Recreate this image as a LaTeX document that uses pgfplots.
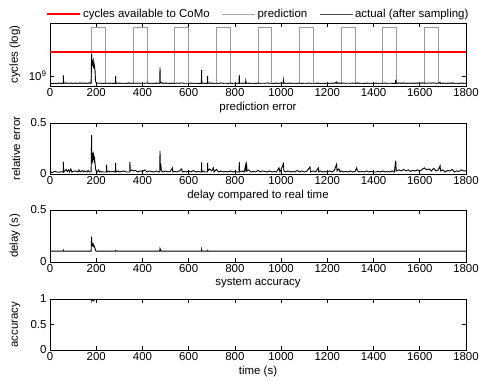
\documentclass[border=0pt]{standalone}
\usepackage{fontspec}
\setmainfont{Liberation Sans}
\usepackage{pgfplots}
\pgfplotsset{compat=1.18}
\pgfplotsset{
  every axis/.append style={
    scale only axis, width=416bp,
    xmin=0, xmax=1800, xtick={0,200,...,1800},
    font=\fontsize{11.5}{13}\selectfont,
    tick label style={font=\fontsize{11.5}{13}\selectfont},
    /pgf/number format/assume math mode=true,
    /pgf/number format/1000 sep={},
    axis line style={line width=0.9bp},
    major tick length=4bp,
    tick style={black, line width=0.6bp},
    xticklabel style={yshift=1bp},
    every axis y label/.style={at={(axis description cs:-0.063,0.5)}, rotate=90, anchor=south},
    every axis x label/.style={at={(axis description cs:0.5,0)}, anchor=north, yshift=-13bp},
  },
}
\begin{document}
\begin{tikzpicture}
\path[use as bounding box] (-50bp,23bp) rectangle (429bp,-359bp);
% Panel 1
\begin{axis}[at={(0,0)}, anchor=north west, height=63bp,
  ymode=log, ymin=7.5e8, ymax=4.6e9, ytick={1e9}, yticklabels={10\textsuperscript{9}}, yminorticks=false,
  ylabel={cycles (log)}, xlabel={prediction error},
  legend style={at={(0.5,1)}, anchor=south, yshift=2bp, draw=none, fill=none, legend columns=3, inner sep=0pt,
    font=\fontsize{11.5}{13}\selectfont,
    /tikz/every even column/.append style={column sep=10bp}},
  legend image code/.code={\draw[#1] (0bp,0bp) -- (33bp,0bp);},
]
\addlegendimage{red, line width=2.5bp}\addlegendentry{cycles available to CoMo}
\addlegendimage{black!35, line width=0.8bp}\addlegendentry{prediction}
\addlegendimage{black!70, line width=0.8bp}\addlegendentry{actual (after sampling)}
\addplot[forget plot, black!40, line width=0.9bp] coordinates {
(0,8e8) (180,8e8) (180,4.06e9) (240,4.06e9) (240,8e8)
(360,8e8) (360,4.06e9) (420,4.06e9) (420,8e8)
(540,8e8) (540,4.06e9) (600,4.06e9) (600,8e8)
(720,8e8) (720,4.06e9) (780,4.06e9) (780,8e8)
(900,8e8) (900,4.06e9) (960,4.06e9) (960,8e8)
(1080,8e8) (1080,4.06e9) (1140,4.06e9) (1140,8e8)
(1260,8e8) (1260,4.06e9) (1320,4.06e9) (1320,8e8)
(1440,8e8) (1440,4.06e9) (1500,4.06e9) (1500,8e8)
(1620,8e8) (1620,4.06e9) (1680,4.06e9) (1680,8e8) (1800,8e8)};
\addplot[forget plot, red, line width=2.5bp] coordinates {(0,2e9) (1800,2e9)};
\addplot[forget plot, black, line width=0.9bp] coordinates {
(0,8.1e8) (10,8.05e8) (20,8.12e8) (30,8.05e8) (40,8.15e8) (50,8.1e8) (57,8.1e8) (58,1.02e9) (59,8.1e8)
(70,8.2e8) (80,8.1e8) (90,8.18e8) (100,8.1e8) (110,8.15e8) (120,8.1e8) (130,8.2e8) (140,8.12e8)
(150,8.15e8) (160,8.1e8) (170,8.2e8) (178,8.2e8)
(180,1.88e9) (181,1.3e9) (183,1.6e9) (185,1.45e9) (187,1.55e9) (189,1.25e9) (191,1.4e9) (193,1.3e9) (195,1.15e9) (197,8.6e8)
(200,8.2e8) (210,8.1e8) (220,8.15e8) (230,8.05e8) (240,8.15e8) (250,8.1e8) (260,8.15e8) (270,8.1e8)
(283,8.1e8) (284,1.0e9) (285,8.1e8) (300,8.15e8) (310,8.1e8) (320,8.12e8) (330,8.08e8) (340,8.2e8)
(350,8.1e8) (360,8.15e8) (370,8.1e8) (380,8.15e8) (390,8.1e8) (400,8.12e8) (410,8.1e8) (420,8.2e8)
(430,8.1e8) (440,8.12e8) (450,8.1e8) (460,8.15e8) (475,8.1e8) (476,1.28e9) (477,8.5e8) (480,8.3e8)
(490,8.1e8) (500,8.15e8) (510,8.12e8) (520,8.08e8) (530,8.15e8) (540,8.1e8) (550,8.15e8) (560,8.1e8)
(570,8.2e8) (580,8.1e8) (590,8.12e8) (600,8.1e8) (610,8.15e8) (620,8.1e8) (630,8.12e8) (640,8.08e8)
(655,8.1e8) (656,1.19e9) (657,8.2e8) (670,8.1e8) (681,8.1e8) (682,1.0e9) (683,8.2e8) (690,8.15e8)
(700,8.15e8) (710,8.1e8) (720,8.12e8) (730,8.08e8) (740,8.2e8) (750,8.1e8) (760,8.12e8) (770,8.08e8)
(780,8.15e8) (790,8.1e8) (800,8.12e8) (810,8.1e8) (818,8.1e8) (819,1.03e9) (820,8.1e8) (835,8.15e8)
(846,8.1e8) (847,8.7e8) (849,8.1e8) (860,8.15e8) (870,8.1e8) (880,8.12e8) (890,8.08e8) (900,8.15e8)
(910,8.1e8) (920,8.12e8) (930,8.1e8) (940,8.2e8) (950,8.1e8) (960,8.12e8) (970,8.08e8) (980,8.15e8)
(990,8.1e8) (1000,8.2e8) (1009,8.1e8) (1010,8.9e8) (1012,8.2e8) (1020,8.12e8) (1030,8.1e8) (1040,8.15e8)
(1050,8.1e8) (1060,8.12e8) (1070,8.1e8) (1080,8.15e8) (1090,8.08e8) (1100,8.12e8) (1110,8.1e8) (1120,8.15e8)
(1130,8.1e8) (1140,8.12e8) (1150,8.1e8) (1160,8.15e8) (1170,8.1e8) (1180,8.12e8) (1190,8.08e8) (1200,8.15e8)
(1210,8.1e8) (1220,8.12e8) (1230,8.15e8) (1240,8.4e8) (1242,8.1e8) (1250,8.2e8) (1260,8.1e8) (1270,8.15e8)
(1280,8.1e8) (1290,8.12e8) (1300,8.1e8) (1310,8.15e8) (1320,8.1e8) (1330,8.2e8) (1340,8.1e8) (1350,8.12e8)
(1360,8.08e8) (1370,8.15e8) (1380,8.1e8) (1390,8.12e8) (1400,8.1e8) (1410,8.15e8) (1420,8.1e8) (1430,8.12e8)
(1440,8.1e8) (1450,8.15e8) (1460,8.1e8) (1470,8.12e8) (1480,8.1e8) (1495,8.1e8) (1496,9.0e8) (1498,8.1e8)
(1510,8.2e8) (1520,8.12e8) (1530,8.2e8) (1540,8.1e8) (1550,8.18e8) (1560,8.1e8) (1570,8.15e8) (1580,8.12e8)
(1590,8.2e8) (1600,8.1e8) (1610,8.2e8) (1620,8.15e8) (1630,8.1e8) (1640,8.2e8) (1650,8.12e8) (1660,8.2e8)
(1670,8.1e8) (1680,8.15e8) (1688,8.3e8) (1690,8.1e8) (1700,8.15e8) (1710,8.1e8) (1720,8.15e8) (1730,8.12e8)
(1740,8.2e8) (1750,8.1e8) (1760,8.12e8) (1770,8.1e8) (1780,8.18e8) (1790,8.1e8) (1800,8.12e8)};
\end{axis}
% Panel 2
\begin{axis}[at={(0,-100bp)}, anchor=north west, height=51bp,
  ymin=0, ymax=0.5, ytick={0,0.5}, yticklabels={0,0.5},
  ylabel={relative error}, xlabel={delay compared to real time}]
\addplot[black, line width=0.9bp] coordinates {
(0,.02) (10,.015) (20,.025) (30,.02) (40,.018) (50,.022) (57,.02) (58,.12) (59,.02) (65,.03) (70,.045) (75,.025)
(80,.04) (85,.02) (90,.05) (95,.02) (100,.025) (110,.03) (120,.02) (125,.04) (130,.02) (140,.035) (145,.02)
(150,.03) (160,.02) (165,.035) (170,.02) (178,.02) (180,.38) (181,.1) (182,.2) (183,.12) (185,.21) (187,.14)
(189,.18) (191,.13) (193,.15) (195,.1) (197,.06) (199,.03) (205,.02) (210,.04) (215,.02) (220,.025) (230,.02)
(244,.02) (245,.09) (246,.02) (255,.03) (260,.02) (270,.025) (283,.02) (284,.11) (285,.02) (295,.03) (300,.02)
(310,.025) (320,.03) (330,.02) (345,.02) (346,.12) (347,.03) (355,.04) (360,.03) (370,.035) (380,.02) (390,.03)
(400,.025) (410,.04) (420,.02) (430,.03) (440,.025) (450,.02) (460,.03) (470,.02) (475,.02) (476,.23) (477,.05)
(480,.08) (482,.03) (490,.02) (500,.03) (510,.02) (520,.025) (530,.06) (531,.02) (540,.025) (550,.02) (560,.03)
(570,.05) (572,.02) (580,.025) (590,.02) (600,.03) (610,.02) (620,.035) (630,.02) (640,.025) (650,.02) (655,.02)
(656,.115) (657,.02) (665,.03) (670,.02) (681,.02) (682,.11) (683,.03) (690,.05) (695,.04) (700,.03) (707,.06)
(710,.02) (720,.045) (730,.02) (740,.03) (750,.02) (760,.025) (770,.02) (780,.03) (790,.02) (800,.025) (810,.02)
(818,.02) (819,.12) (820,.02) (830,.03) (840,.02) (847,.09) (848,.02) (851,.08) (853,.03) (860,.04) (870,.02)
(880,.025) (890,.02) (900,.035) (910,.02) (920,.03) (930,.025) (940,.02) (950,.03) (960,.02) (970,.025) (980,.02)
(991,.06) (995,.02) (1010,.1) (1012,.03) (1020,.02) (1030,.03) (1040,.02) (1050,.025) (1060,.02) (1070,.035)
(1080,.02) (1090,.03) (1100,.02) (1110,.025) (1125,.07) (1127,.02) (1140,.03) (1150,.02) (1161,.06) (1163,.02)
(1170,.03) (1180,.02) (1190,.025) (1200,.02) (1210,.03) (1220,.02) (1230,.035) (1240,.095) (1242,.03) (1250,.05)
(1255,.02) (1260,.03) (1270,.02) (1280,.025) (1290,.02) (1300,.03) (1310,.02) (1320,.025) (1327,.06) (1330,.03)
(1340,.02) (1350,.025) (1360,.02) (1370,.03) (1380,.02) (1390,.025) (1400,.02) (1410,.02) (1420,.025) (1430,.02)
(1440,.03) (1450,.02) (1460,.025) (1470,.02) (1480,.03) (1490,.02) (1496,.13) (1498,.03) (1510,.04) (1520,.03)
(1530,.045) (1540,.03) (1550,.04) (1560,.025) (1570,.035) (1580,.03) (1590,.04) (1600,.03) (1610,.045) (1620,.06)
(1630,.04) (1640,.05) (1650,.03) (1660,.055) (1670,.03) (1680,.04) (1688,.08) (1690,.03) (1700,.04) (1710,.02)
(1720,.035) (1730,.03) (1740,.045) (1750,.02) (1760,.03) (1770,.025) (1780,.04) (1790,.03) (1800,.03)};
\end{axis}
% Panel 3
\begin{axis}[at={(0,-187bp)}, anchor=north west, height=52bp,
  ymin=0, ymax=0.5, ytick={0,0.5}, yticklabels={0,0.5},
  ylabel={delay (s)}, xlabel={system accuracy}]
\addplot[black, line width=0.9bp] coordinates {
(0,.105) (57,.105) (58,.112) (59,.105) (178,.105) (180,.245) (181,.15) (183,.175) (185,.16) (187,.17)
(189,.15) (191,.155) (193,.14) (195,.13) (197,.11) (199,.105) (283,.105) (284,.11) (285,.105)
(475,.105) (476,.13) (478,.12) (480,.105) (655,.105) (656,.12) (657,.105) (681,.105) (682,.11) (683,.105)
(1800,.105)};
\end{axis}
% Panel 4
\begin{axis}[at={(0,-276bp)}, anchor=north west, height=51bp,
  ymin=0, ymax=1, ytick={0,0.5,1}, yticklabels={0,0.5,1},
  ylabel={accuracy}, xlabel={time (s)}]
\addplot[black, line width=1.2bp] coordinates {
(0,1) (180,1) (181,.97) (183,1) (190,.97) (191,1) (1800,1)};
\end{axis}
\end{tikzpicture}
\end{document}
